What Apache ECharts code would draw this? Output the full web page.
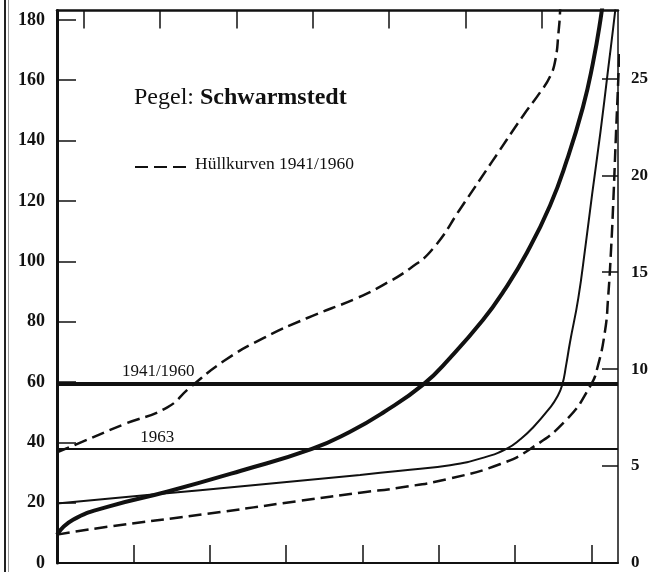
<!DOCTYPE html>
<html>
<head>
<meta charset="utf-8">
<script src="https://cdn.jsdelivr.net/npm/echarts@6/dist/echarts.min.js"></script>
<style>
  html, body { margin: 0; padding: 0; background: #fff; }
  #c { width: 665px; height: 572px; }
</style>
</head>
<body>
<div id="c"></div>
<script>
// Axis scales and tick positions
const xMax = 7.35;
const yLeftMax = 183.1;
const yRightMax = 28.5;
const leftTicks = [0, 20, 40, 60, 80, 100, 120, 140, 160, 180];
const rightTicks = [0, 5, 10, 15, 20, 25];
const bottomTicks = [0, 1, 2, 3, 4, 5, 6, 7];
const topTicks = [0.35, 1.35, 2.35, 3.35, 4.35, 5.35, 6.35];

// Horizontal reference levels
const level4160 = 59.3;
const level1963 = 37.8;

// Duration curve 1941/1960 (thick)
const curve4160 = [[0, 9.4], [0.21, 14.3], [0.66, 18.6], [1.44, 23.6], [2.4, 30.5], [3.34, 37.8],
  [3.84, 43.5], [4.27, 49.8], [4.8, 59.2], [5.15, 68.0], [5.58, 80.5], [5.85, 90.0], [6.16, 103.0],
  [6.46, 118.5], [6.68, 133.5], [6.89, 151.0], [7.02, 165.5], [7.12, 180.0], [7.17, 190]];

// Duration curve 1963 (thin)
const curve1963 = [[0, 19.7], [1.22, 22.6], [2.53, 25.7], [3.97, 29.2], [4.5, 30.6], [5.15, 32.4],
  [5.6, 35.0], [5.9, 38.0], [6.07, 41.0], [6.24, 45.0], [6.46, 51.5], [6.55, 54.9], [6.62, 59.1],
  [6.67, 65.5], [6.72, 73.0], [6.83, 87.8], [6.92, 104.3], [7.01, 122.0], [7.12, 142.8], [7.22, 163.5],
  [7.31, 182.3], [7.34, 190]];

// Envelope curves 1941/1960 (dashed)
const envelopeUpper = [[0, 36.7], [0.26, 39.4], [0.88, 46.0], [1.44, 51.5], [1.74, 58.1], [2.19, 67.0],
  [2.71, 74.6], [3.28, 81.2], [3.93, 87.8], [4.27, 92.1], [4.63, 97.7], [4.93, 104.3], [5.3, 118.0],
  [5.7, 133.0], [6.1, 148.0], [6.33, 156.0], [6.46, 161.2], [6.53, 166.8], [6.57, 175.7], [6.59, 182.3], [6.6, 190]];
const envelopeLower = [[0, 9.4], [0.66, 12.0], [1.97, 16.3], [3.18, 20.6], [3.97, 23.3], [4.5, 25.0],
  [5.15, 28.0], [5.81, 32.8], [6.2, 37.8], [6.68, 47.6], [6.99, 58.8], [7.08, 64.7], [7.18, 76.9],
  [7.22, 87.8], [7.26, 104.3], [7.29, 120.7], [7.32, 140.0], [7.345, 155.0], [7.37, 170]];

const ink = '#111';
const serif = '"Liberation Serif", "DejaVu Serif", serif';

const chart = echarts.init(document.getElementById('c'), null, { renderer: 'canvas' });

const curveSeries = (name, data, width, dashed) => ({
  name, type: 'line', data, xAxisIndex: 0, yAxisIndex: 0,
  showSymbol: false, symbol: 'none', smooth: 0.5, clip: true,
  lineStyle: { color: ink, width, type: dashed ? [13, 6] : 'solid' },
  silent: true, z: 3
});

const levelSeries = (name, level, width) => ({
  name, type: 'line', data: [[0, level], [xMax, level]], xAxisIndex: 0, yAxisIndex: 0,
  showSymbol: false, symbol: 'none', lineStyle: { color: ink, width }, silent: true, z: 2
});

const tickStyle = { color: ink, width: 1.5 };

const option = {
  animation: false,
  backgroundColor: '#fff',
  grid: { left: 57, right: 47, top: 10.5, bottom: 5.5, containLabel: false },
  xAxis: [
    {
      type: 'value', position: 'bottom', min: 0, max: xMax,
      axisLine: { show: true, onZero: false, lineStyle: { color: ink, width: 2 } },
      axisTick: { show: true, inside: true, length: 18, customValues: bottomTicks, lineStyle: tickStyle },
      axisLabel: { show: false },
      splitLine: { show: false }
    },
    {
      type: 'value', position: 'top', min: 0, max: xMax,
      axisLine: { show: true, onZero: false, lineStyle: { color: ink, width: 2.5 } },
      axisTick: { show: true, inside: true, length: 18, customValues: topTicks, lineStyle: tickStyle },
      axisLabel: { show: false },
      splitLine: { show: false }
    }
  ],
  yAxis: [
    {
      type: 'value', position: 'left', min: 0, max: yLeftMax,
      axisLine: { show: true, onZero: false, lineStyle: { color: ink, width: 3 } },
      axisTick: { show: true, inside: true, length: 19, customValues: leftTicks, lineStyle: tickStyle },
      axisLabel: { show: true, customValues: leftTicks, margin: 12, color: ink,
        fontFamily: serif, fontWeight: 'bold', fontSize: 18 },
      splitLine: { show: false }
    },
    {
      type: 'value', position: 'right', min: 0, max: yRightMax,
      axisLine: { show: true, onZero: false, lineStyle: { color: ink, width: 1.5 } },
      axisTick: { show: true, inside: true, length: 16, customValues: rightTicks, lineStyle: tickStyle },
      axisLabel: { show: true, customValues: rightTicks, margin: 13, color: ink,
        fontFamily: serif, fontWeight: 'bold', fontSize: 17 },
      splitLine: { show: false }
    }
  ],
  series: [
    levelSeries('Mittel 1941/1960', level4160, 4),
    levelSeries('1963', level1963, 2),
    curveSeries('Hüllkurve oben', envelopeUpper, 2.5, true),
    curveSeries('Hüllkurve unten', envelopeLower, 2.5, true),
    curveSeries('1963 Dauerlinie', curve1963, 2, false),
    curveSeries('1941/1960 Dauerlinie', curve4160, 4, false)
  ]
};

chart.setOption(option);

// Labels sitting on the two reference levels
const p4160 = chart.convertToPixel({ xAxisIndex: 0, yAxisIndex: 0 }, [0.85, level4160]);
const p1963 = chart.convertToPixel({ xAxisIndex: 0, yAxisIndex: 0 }, [1.09, level1963]);

chart.setOption({
  graphic: [
    // page edge rules on the left
    { type: 'line', shape: { x1: 5, y1: 0, x2: 5, y2: 572 }, style: { stroke: '#222', lineWidth: 2 }, silent: true },
    { type: 'line', shape: { x1: 8.5, y1: 0, x2: 8.5, y2: 572 }, style: { stroke: '#999', lineWidth: 1 }, silent: true },
    // title
    { type: 'text', left: 134, top: 86, silent: true,
      style: { text: '{r|Pegel: }{b|Schwarmstedt}',
        rich: {
          r: { fontFamily: serif, fontSize: 24, fill: ink },
          b: { fontFamily: serif, fontSize: 24, fontWeight: 'bold', fill: ink }
        } } },
    // legend for the dashed envelopes
    { type: 'line', shape: { x1: 135, y1: 167, x2: 189, y2: 167 }, silent: true,
      style: { stroke: ink, lineWidth: 2, lineDash: [13, 6] } },
    { type: 'text', left: 195, top: 155, silent: true,
      style: { text: 'Hüllkurven 1941/1960', fontFamily: serif, fontSize: 17.5, fill: ink } },
    // level labels
    { type: 'text', x: p4160[0], y: p4160[1] - 4, silent: true,
      style: { text: '1941/1960', fontFamily: serif, fontSize: 17, fill: ink,
        textAlign: 'left', textVerticalAlign: 'bottom' } },
    { type: 'text', x: p1963[0], y: p1963[1] - 3, silent: true,
      style: { text: '1963', fontFamily: serif, fontSize: 17, fill: ink,
        textAlign: 'left', textVerticalAlign: 'bottom' } }
  ]
});
</script>
</body>
</html>
